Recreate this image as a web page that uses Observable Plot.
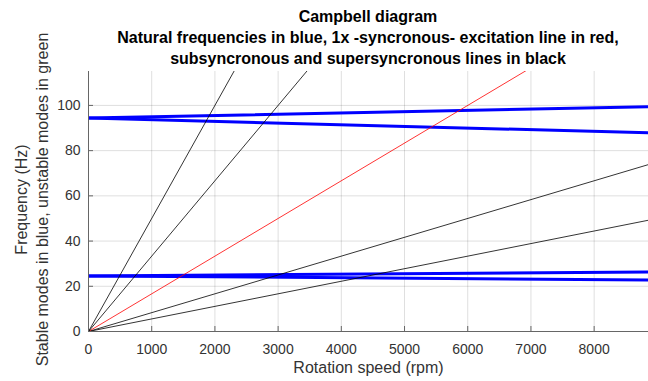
<!DOCTYPE html>
<html>
<head>
<meta charset="utf-8">
<script src="https://cdn.jsdelivr.net/npm/d3@7"></script>
<script src="https://cdn.jsdelivr.net/npm/@observablehq/plot@0.6"></script>
<style>
  body { margin: 0; background: #fff; }
  #wrap { position: relative; width: 648px; height: 381px; font-family: "Liberation Sans", Arial, sans-serif; overflow: hidden; }
  #chart { position: absolute; left: 0; top: 0; }
  #title { position: absolute; left: 88px; width: 560px; top: 6px; text-align: center; font-weight: bold; font-size: 16px; line-height: 21px; color: #000; }
</style>
</head>
<body>
<div id="wrap">
  <div id="chart"></div>
  <div id="title">Campbell diagram<br>Natural frequencies in blue, 1x -syncronous- excitation line in red,<br>subsyncronous and supersyncronous lines in black</div>
</div>
<script>
// ---- data ----
const speedDomain = [0, 8860];          // rpm
const freqDomain = [0, 115];            // Hz
const xTicks = [0, 1000, 2000, 3000, 4000, 5000, 6000, 7000, 8000];
const yTicks = [0, 20, 40, 60, 80, 100];

// natural frequencies (Hz) at the listed speeds (rpm)
const modeSpeeds = [0, 8860];
const mode1Backward = [24.6, 22.8];
const mode1Forward  = [24.6, 26.3];
const mode2Backward = [94.4, 87.9];
const mode2Forward  = [94.4, 99.4];

// excitation orders (multiples of running speed)
const excitationOrders = [1/3, 1/2, 1, 2, 3];
const excitationSpeeds = [0, 8860];

// ---- tables ----
const modes = [
  ["1B", mode1Backward], ["1F", mode1Forward],
  ["2B", mode2Backward], ["2F", mode2Forward]
].flatMap(([name, vals]) => vals.map((hz, i) => ({mode: name, rpm: modeSpeeds[i], hz})));

const excitation = excitationOrders.flatMap(order =>
  excitationSpeeds.map(rpm => ({order, rpm, hz: order * rpm / 60})));

const W = 648, H = 381, mL = 88, mR = 0, mT = 71, mB = 50;
const frameW = W - mL - mR, frameH = H - mT - mB;

const chart = Plot.plot({
  width: W,
  height: H,
  marginLeft: mL,
  marginRight: mR,
  marginTop: mT,
  marginBottom: mB,
  style: {fontFamily: "Liberation Sans, Arial, sans-serif", fontSize: "14px", color: "#333", background: "#fff"},
  x: {domain: speedDomain, ticks: xTicks, tickSize: 0, tickPadding: 13, tickFormat: d3.format("d"), label: null},
  y: {domain: freqDomain, ticks: yTicks, tickSize: 0, tickPadding: 8, tickFormat: d3.format("d"), label: null},
  marks: [
    Plot.gridX(xTicks.filter(d => d > 0), {stroke: "#000", strokeOpacity: 0.13}),
    Plot.gridY(yTicks.filter(d => d > 0), {stroke: "#000", strokeOpacity: 0.13}),
    Plot.line(modes, {x: "rpm", y: "hz", z: "mode", stroke: "#0000ff", strokeWidth: 3, clip: true}),
    Plot.line(excitation, {x: "rpm", y: "hz", z: "order",
      stroke: d => d.order === 1 ? "#ff0000" : "#000000", strokeWidth: 0.8, clip: true}),
    Plot.ruleX([0], {stroke: "#666", strokeWidth: 1}),
    Plot.ruleY([0], {stroke: "#666", strokeWidth: 1}),
    Plot.tickX(xTicks.filter(d => d > 0), {x: d => d, insetTop: frameH - 5, stroke: "#666"}),
    Plot.tickY(yTicks.filter(d => d > 0), {y: d => d, insetRight: frameW - 5, stroke: "#666"}),
    Plot.text(["Rotation speed (rpm)"], {frameAnchor: "bottom", dy: 41, fontSize: 16, fill: "#333"}),
    Plot.text(["Frequency (Hz)"], {frameAnchor: "left", textAnchor: "middle", rotate: -90, dx: -67, dy: -2, fontSize: 16, fill: "#333"}),
    Plot.text(["Stable modes in blue, unstable modes in green"], {frameAnchor: "left", textAnchor: "middle", rotate: -90, dx: -46, dy: -2, fontSize: 16, fill: "#333"})
  ]
});
document.getElementById("chart").appendChild(chart);
</script>
</body>
</html>
